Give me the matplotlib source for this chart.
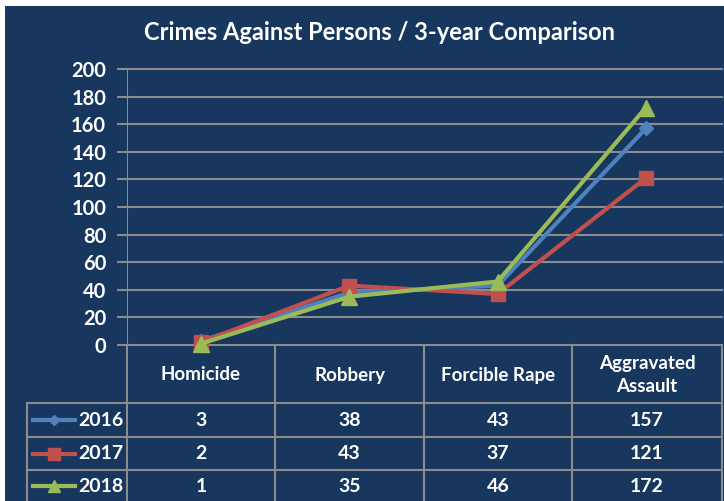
import matplotlib
matplotlib.use("Agg")
import matplotlib.pyplot as plt
from matplotlib.patches import Rectangle
from matplotlib.lines import Line2D

categories = ["Homicide", "Robbery", "Forcible Rape", "Aggravated\nAssault"]
years = ["2016", "2017", "2018"]
v2016 = [3, 38, 43, 157]
v2017 = [2, 43, 37, 121]
v2018 = [1, 35, 46, 172]
series = [v2016, v2017, v2018]
yticks = [0, 20, 40, 60, 80, 100, 120, 140, 160, 180, 200]

colors = ["#4f81bd", "#c0504d", "#9bbb59"]
markers = ["D", "s", "^"]
msizes = [7, 10, 11]
leg_msizes = [5.5, 8, 8.5]
BG = "#17375e"
GRID = "#8c8c8c"
FONT = "Lato"

W, H = 724, 501
fig = plt.figure(figsize=(W / 100, H / 100), dpi=100)
fig.patch.set_facecolor("white")

def fx(px):
    return px / W

def fy(py):
    return 1 - py / H

fig.patches.append(Rectangle((fx(5), 0), 1 - fx(5), fy(6), transform=fig.transFigure,
                             facecolor=BG, edgecolor="none", zorder=-10))

# plot area
L, R, T, B = 127, 722, 69, 345
ax = fig.add_axes([fx(L), fy(B), fx(R) - fx(L), fy(T) - fy(B)])
ax.set_facecolor("none")
colw = 148.25
ax.set_xlim(-0.5, 3.5 + (R - L - 4 * colw) / colw)
ax.set_ylim(0, 200)
for s in ax.spines.values():
    s.set_visible(False)
ax.set_yticks(yticks)
ax.set_yticklabels([str(t) for t in yticks], color="white", fontsize=14.5,
                   fontweight="bold", fontfamily=FONT)
ax.tick_params(axis="y", length=7, color=GRID, width=1.5, pad=8)
ax.set_xticks([])
for t in yticks:
    ax.axhline(t, color=GRID, lw=1.5, zorder=1, clip_on=False)
ax.axvline(-0.5, color=GRID, lw=1.5, zorder=1)

xs = list(range(len(categories)))
for vals, c, m, ms in zip(series, colors, markers, msizes):
    ax.plot(xs, vals, color=c, lw=3, marker=m, markersize=ms, zorder=3, clip_on=False)

# title
fig.text(fx(380), fy(33), "Crimes Against Persons / 3-year Comparison", color="white",
         fontsize=17, fontweight="bold", fontfamily=FONT, ha="center", va="center")

# table grid
colx = [127, 275, 424, 572, 722]
rowy = [345, 403, 437, 470]
def hline(y, x0, x1):
    fig.add_artist(Line2D([fx(x0), fx(x1)], [fy(y), fy(y)], color=GRID, lw=1.5,
                          transform=fig.transFigure))
def vline(x, y0, y1):
    fig.add_artist(Line2D([fx(x), fx(x)], [fy(y0), fy(y1)], color=GRID, lw=1.5,
                          transform=fig.transFigure))
for y in rowy[1:]:
    hline(y, 27, 722)
for x in colx:
    vline(x, 345, 501)
vline(27, 403, 501)

centers = [(colx[i] + colx[i + 1]) / 2 for i in range(4)]
for cx, cat in zip(centers, categories):
    fig.text(fx(cx), fy(375), cat, color="white", fontsize=13.5, fontweight="bold",
             fontfamily=FONT, ha="center", va="center", linespacing=1.45)

row_centers = [420, 453.5, 486]
for ry, yr, vals, c, m, ms in zip(row_centers, years, series, colors, markers, leg_msizes):
    fig.add_artist(Line2D([fx(33), fx(75)], [fy(ry), fy(ry)], color=c, lw=3,
                          transform=fig.transFigure))
    fig.add_artist(Line2D([fx(54)], [fy(ry)], color=c, marker=m, markersize=ms,
                          transform=fig.transFigure, lw=0))
    fig.text(fx(78), fy(ry), yr, color="white", fontsize=14, fontweight="bold",
             fontfamily=FONT, ha="left", va="center")
    for cx, v in zip(centers, vals):
        fig.text(fx(cx), fy(ry), str(v), color="white", fontsize=14, fontweight="bold",
                 fontfamily=FONT, ha="center", va="center")

fig.savefig("out.png", dpi=100, facecolor=fig.get_facecolor())
